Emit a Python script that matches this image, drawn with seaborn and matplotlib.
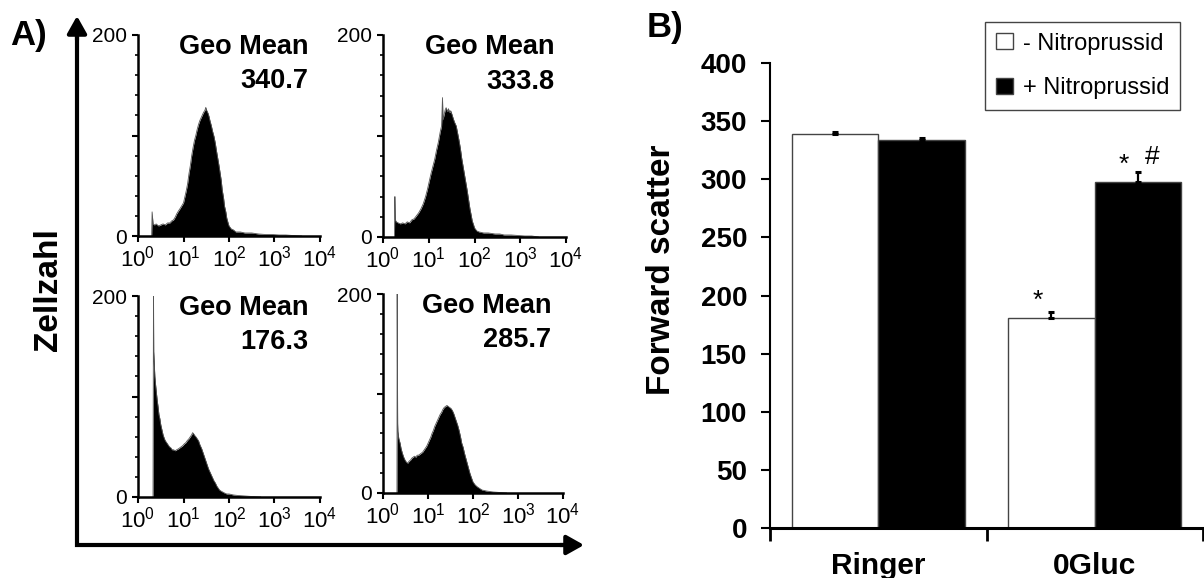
import numpy as np
import pandas as pd
import matplotlib
matplotlib.use("Agg")
import matplotlib.pyplot as plt
from matplotlib.ticker import FixedLocator, NullLocator, LogFormatterSciNotation
from matplotlib.patches import ArrowStyle
import seaborn as sns

# ---------------- data ----------------
geo_means = ["340.7", "333.8", "176.3", "285.7"]

# histogram channel positions (log10 of fluorescence) and cell counts
tl_log = [0.30, 0.31, 0.33, 0.36, 0.40, 0.45, 0.50, 0.55, 0.60, 0.65, 0.70, 0.74, 0.78, 0.82, 0.85, 0.89,
          0.92, 0.96, 1.00, 1.03, 1.06, 1.09, 1.12, 1.15, 1.18, 1.21, 1.24, 1.27, 1.30, 1.33, 1.36, 1.39,
          1.42, 1.44, 1.47, 1.49, 1.50, 1.52, 1.54, 1.56, 1.58, 1.61, 1.64, 1.67, 1.70, 1.72, 1.75, 1.78,
          1.80, 1.83, 1.85, 1.88, 1.90, 1.93, 1.95, 1.98, 2.00, 2.05, 2.10, 2.15, 2.25, 2.35, 2.50, 2.65,
          2.80, 2.95, 3.10, 3.25, 3.40, 3.60]
tl_cnt = [0, 24, 12, 11, 12, 10, 11, 12, 11, 13, 13, 15, 16, 19, 22, 25,
          27, 30, 33, 39, 45, 52, 62, 70, 80, 88, 95, 100, 106, 111, 115, 118,
          121, 123, 125, 128, 126, 124, 122, 119, 115, 110, 104, 99, 92, 86, 78, 70,
          64, 55, 46, 38, 30, 24, 18, 13, 10, 7, 6, 4, 4, 3, 3, 2,
          1.5, 1.5, 1, 1, 0.5, 0]

tr_log = [0.25, 0.26, 0.27, 0.29, 0.33, 0.38, 0.43, 0.48, 0.53, 0.58, 0.63, 0.68, 0.73, 0.78, 0.83, 0.88,
          0.93, 0.97, 1.01, 1.05, 1.09, 1.13, 1.17, 1.21, 1.25, 1.28, 1.30, 1.31, 1.33, 1.36, 1.38, 1.41,
          1.43, 1.46, 1.48, 1.51, 1.53, 1.56, 1.60, 1.63, 1.66, 1.69, 1.72, 1.75, 1.78, 1.81, 1.84, 1.87,
          1.90, 1.93, 1.95, 1.98, 2.00, 2.05, 2.10, 2.20, 2.30, 2.45, 2.55, 2.65, 2.80, 2.95, 3.10, 3.25,
          3.40]
tr_cnt = [0, 40, 17, 15, 14, 13, 14, 13, 15, 14, 17, 18, 21, 24, 28, 33,
          40, 47, 55, 63, 70, 77, 86, 94, 104, 110, 138, 116, 120, 126, 128, 124,
          127, 123, 125, 121, 118, 114, 110, 103, 96, 88, 78, 70, 62, 54, 46, 37,
          28, 21, 16, 12, 9, 6, 5, 4, 4, 3, 3, 2, 2, 1.5, 1, 1,
          0]

bl_log = [0.33, 0.34, 0.345, 0.35, 0.37, 0.39, 0.42, 0.44, 0.46, 0.48, 0.50, 0.53, 0.55, 0.58, 0.60, 0.63,
          0.66, 0.69, 0.72, 0.75, 0.78, 0.82, 0.85, 0.89, 0.92, 0.95, 0.98, 1.02, 1.05, 1.08, 1.12, 1.15,
          1.18, 1.20, 1.22, 1.25, 1.27, 1.30, 1.33, 1.36, 1.40, 1.43, 1.46, 1.49, 1.52, 1.55, 1.58, 1.61,
          1.64, 1.67, 1.70, 1.73, 1.76, 1.79, 1.82, 1.86, 1.90, 1.95, 2.00, 2.10, 2.20, 2.35, 2.50, 2.70]
bl_cnt = [0, 200, 145, 140, 120, 110, 97, 90, 82, 78, 72, 66, 62, 58, 56, 54,
          52, 50, 49, 47, 47, 46, 47, 48, 49, 50, 51, 53, 54, 56, 58, 60,
          62, 64, 63, 61, 60, 58, 56, 52, 48, 44, 40, 36, 32, 28, 25, 22,
          19, 16, 14, 11, 9, 7, 6, 5, 4, 3, 3, 2, 1.5, 1, 0.5, 0]

br_log = [0.31, 0.315, 0.32, 0.325, 0.33, 0.35, 0.38, 0.40, 0.43, 0.46, 0.49, 0.52, 0.55, 0.58, 0.61, 0.64,
          0.67, 0.70, 0.73, 0.76, 0.79, 0.82, 0.85, 0.88, 0.91, 0.94, 0.97, 1.00, 1.03, 1.06, 1.09, 1.12,
          1.15, 1.18, 1.21, 1.24, 1.27, 1.30, 1.33, 1.36, 1.39, 1.42, 1.45, 1.48, 1.51, 1.54, 1.57, 1.60,
          1.63, 1.66, 1.69, 1.72, 1.75, 1.78, 1.81, 1.84, 1.87, 1.90, 1.93, 1.96, 2.00, 2.05, 2.10, 2.20,
          2.30, 2.45, 2.60, 2.75]
br_cnt = [0, 200, 130, 70, 62, 55, 50, 45, 40, 36, 33, 31, 30, 32, 33, 35,
          36, 37, 36, 38, 38, 39, 40, 41, 43, 45, 47, 50, 53, 56, 60, 63,
          67, 70, 73, 76, 79, 81, 84, 86, 87, 88, 87, 86, 85, 83, 80, 76,
          72, 68, 63, 57, 50, 46, 40, 35, 30, 25, 20, 16, 11, 8, 6, 3,
          2, 1, 0.5, 0]

groups = ["Ringer", "0Gluc"]
treatments = ["- Nitroprussid", "+ Nitroprussid"]
fsc_minus = [339, 181]
fsc_plus = [334, 298]
sem_minus = [2, 5]
sem_plus = [1.7, 8]

# ---------------- style ----------------
sns.set_theme(style="ticks")
plt.rcParams["font.family"] = ["Liberation Sans", "DejaVu Sans"]
plt.rcParams["axes.edgecolor"] = "black"
plt.rcParams["xtick.color"] = "black"
plt.rcParams["ytick.color"] = "black"
plt.rcParams["text.color"] = "black"
plt.rcParams["axes.labelcolor"] = "black"

W, H = 1204, 578
fig = plt.figure(figsize=(W / 100, H / 100), dpi=100)


def fig_rect(left, top, right, bottom):
    return [left / W, 1 - bottom / H, (right - left) / W, (bottom - top) / H]


# overlay for the big axis arrows of panel A
ov = fig.add_axes([0, 0, 1, 1])
ov.set_xlim(0, W)
ov.set_ylim(H, 0)
ov.axis("off")
ov.plot([77, 77, 570], [30, 545, 545], color="black", lw=3, solid_joinstyle="miter",
        solid_capstyle="butt")
head = ArrowStyle("-|>", head_length=0.8, head_width=0.45)
ov.annotate("", xy=(77, 16), xytext=(77, 40),
            arrowprops=dict(arrowstyle=head, color="black", lw=3, mutation_scale=13,
                            shrinkA=0, shrinkB=0))
ov.annotate("", xy=(584, 545), xytext=(560, 545),
            arrowprops=dict(arrowstyle=head, color="black", lw=3, mutation_scale=13,
                            shrinkA=0, shrinkB=0))

hist_rects = [fig_rect(138, 35, 320, 236), fig_rect(383, 35, 566, 237),
              fig_rect(138, 296, 320, 497), fig_rect(383, 294, 563, 493)]
hist_data = [(tl_log, tl_cnt), (tr_log, tr_cnt), (bl_log, bl_cnt), (br_log, br_cnt)]

for rect, (lg, cnt), gm in zip(hist_rects, hist_data, geo_means):
    ax = fig.add_axes(rect)
    ax.set_facecolor("none")
    x = 10 ** np.asarray(lg)
    df = pd.DataFrame({"x": x, "n": cnt})
    sns.lineplot(data=df, x="x", y="n", ax=ax, color="#555555", lw=0.6, estimator=None, sort=False)
    ax.fill_between(df["x"], df["n"], color="black", lw=0)
    ax.set_xscale("log")
    ax.set_xlim(1, 1e4)
    ax.set_ylim(0, 200)
    ax.set_xlabel("")
    ax.set_ylabel("")
    sns.despine(ax=ax)
    for s in ("left", "bottom"):
        ax.spines[s].set_linewidth(1.8)
    ax.xaxis.set_major_locator(FixedLocator([1, 10, 100, 1000, 10000]))
    ax.xaxis.set_major_formatter(LogFormatterSciNotation())
    ax.xaxis.set_minor_locator(NullLocator())
    ax.yaxis.set_major_locator(FixedLocator([0, 100, 200]))
    ax.set_yticklabels(["0", "", "200"])
    ax.yaxis.set_minor_locator(FixedLocator([20, 40, 60, 80, 120, 140, 160, 180]))
    ax.tick_params(axis="x", which="major", length=4, width=1.5, pad=3, labelsize=16)
    ax.tick_params(axis="y", which="major", length=4, width=1.5, pad=4, labelsize=15)
    ax.tick_params(axis="y", which="minor", length=2.5, width=1.2, left=True)
    ax.text(0.935, 0.905, "Geo Mean", transform=ax.transAxes, ha="right", va="baseline",
            fontsize=19.5, fontweight="bold")
    ax.text(0.935, 0.735, gm, transform=ax.transAxes, ha="right", va="baseline",
            fontsize=19.5, fontweight="bold")

fig.text(10 / W, 1 - 45 / H, "A)", fontsize=25, fontweight="bold", ha="left", va="baseline")
fig.text(48 / W, 1 - 290 / H, "Zellzahl", fontsize=24, fontweight="bold", rotation=90,
         ha="center", va="center")

# ---------------- panel B ----------------
axB = fig.add_axes(fig_rect(770, 63, 1203, 528))
bar_df = pd.DataFrame({
    "group": groups * 2,
    "treat": [treatments[0]] * len(groups) + [treatments[1]] * len(groups),
    "fsc": fsc_minus + fsc_plus,
})
sns.barplot(data=bar_df, x="group", y="fsc", hue="treat", order=groups, hue_order=treatments,
            palette=["white", "black"], edgecolor="#444444", linewidth=1, width=0.8,
            errorbar=None, legend=False, ax=axB)
for cont, sems in zip(axB.containers, [sem_minus, sem_plus]):
    for bar, e in zip(cont, sems):
        xc = bar.get_x() + bar.get_width() / 2
        axB.errorbar(xc, bar.get_height(), yerr=[[0], [e]], fmt="none", ecolor="black",
                     elinewidth=1.6, capsize=2.5, capthick=2.2)

# significance marks
wbar = axB.containers[0][1]
bbar = axB.containers[1][1]
wx = wbar.get_x() + wbar.get_width() / 2
bx = bbar.get_x() + bbar.get_width() / 2
axB.text(wx - 0.062, wbar.get_height() + sem_minus[1] + 3, "*", ha="center", va="baseline", fontsize=19)
axB.text(bx - 0.064, bbar.get_height() + sem_plus[1] + 0, "*", ha="center", va="baseline", fontsize=19)
axB.text(bx + 0.065, bbar.get_height() + sem_plus[1] + 7.5, "#", ha="center", va="baseline", fontsize=19)

axB.set_xlim(-0.5, 1.5)
axB.set_ylim(0, 400)
axB.set_yticks(np.arange(0, 401, 50))
axB.set_xlabel("")
axB.set_ylabel("")
sns.despine(ax=axB)
axB.spines["left"].set_linewidth(1.5)
axB.spines["bottom"].set_linewidth(2.2)
axB.xaxis.set_minor_locator(FixedLocator([-0.5, 0.5, 1.5]))
axB.tick_params(axis="x", which="major", length=0, pad=17)
axB.tick_params(axis="x", which="minor", length=9.5, width=2, bottom=True)
axB.tick_params(axis="y", which="major", length=6.5, width=1.5, pad=10)
for lab in axB.get_yticklabels():
    lab.set_fontsize(20)
    lab.set_fontweight("bold")
for lab in axB.get_xticklabels():
    lab.set_fontsize(21.5)
    lab.set_fontweight("bold")

fig.text(661 / W, 1 - 270 / H, "Forward scatter", fontsize=24, fontweight="bold", rotation=90,
         ha="center", va="center")
fig.text(647 / W, 1 - 37 / H, "B)", fontsize=25, fontweight="bold", ha="left", va="baseline")

handles = [c[0] for c in axB.containers]
leg = axB.legend(handles, treatments, loc="upper left", bbox_to_anchor=(985 / W, 1 - 22 / H),
                 bbox_transform=fig.transFigure, frameon=True, fancybox=False, edgecolor="#444444",
                 framealpha=1, fontsize=17, handlelength=0.75, handleheight=0.65, handletextpad=0.4,
                 labelspacing=0.95, borderpad=0.45, borderaxespad=0)
leg.get_frame().set_linewidth(1)

fig.savefig("out.png", dpi=100)
